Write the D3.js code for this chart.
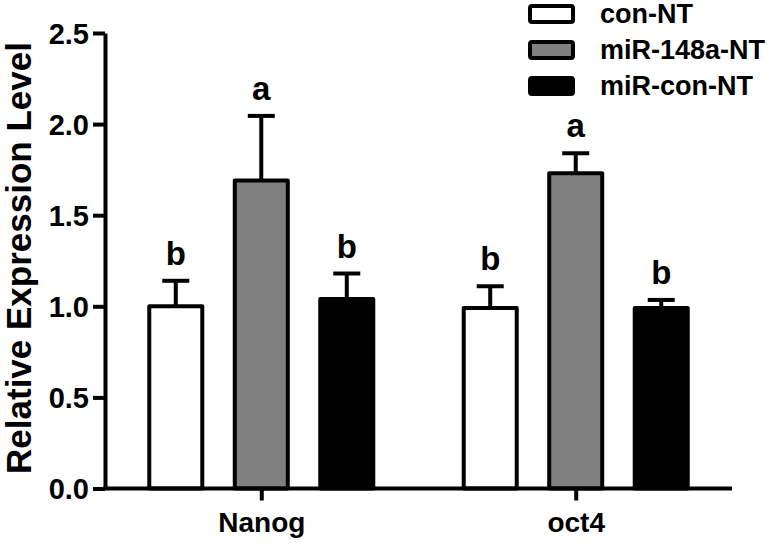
<!DOCTYPE html>
<html>
<head>
<meta charset="utf-8">
<script src="https://cdn.jsdelivr.net/npm/d3@7"></script>
<style>
  body { margin: 0; background: #fff; }
  text { font-family: "Liberation Sans", Arial, sans-serif; font-weight: bold; fill: #000; }
</style>
</head>
<body>
<svg id="chart" width="782" height="546"></svg>
<script>
// genes on the x axis, treatment groups as series
var genes = ["Nanog", "oct4"];
var series = ["con-NT", "miR-148a-NT", "miR-con-NT"];
var fills = ["#ffffff", "#808080", "#000000"];

// mean expression per gene, one entry per series
var means = {
    "Nanog": [1.00, 1.69, 1.04],
    "oct4":  [0.99, 1.73, 0.99]
};
// error bar (upper only)
var errors = {
    "Nanog": [0.14, 0.355, 0.14],
    "oct4":  [0.12, 0.11, 0.045]
};
// significance letters
var letters = {
    "Nanog": ["b", "a", "b"],
    "oct4":  ["b", "a", "b"]
};
var yTicks = [0, 0.5, 1.0, 1.5, 2.0, 2.5];

var svg = d3.select("#chart");

var x0 = d3.scalePoint()
    .domain(genes)
    .range([105, 732])
    .padding(0.497);

var x1 = d3.scaleBand()
    .domain(series)
    .range([-128.25, 128.25])
    .paddingInner(0.38)
    .paddingOuter(0.19);

var y = d3.scaleLinear()
    .domain([0, 2.5])
    .range([488.5, 33]);

// flatten into bar records
var bars = [];
genes.forEach(function(g) {
    series.forEach(function(s, i) {
	bars.push({
	    gene: g,
	    series: s,
	    fill: fills[i],
	    value: means[g][i],
	    err: errors[g][i],
	    letter: letters[g][i]
	});
    });
});

function cx(d) {
    return x0(d.gene) + x1(d.series) + x1.bandwidth() / 2;
}

// error bars first so the bar outline covers the stem
var eb = svg.append("g").attr("class", "errors");
eb.selectAll("line.stem")
    .data(bars)
    .enter()
    .append("line")
    .attr("x1", cx)
    .attr("x2", cx)
    .attr("y1", d => y(d.value))
    .attr("y2", d => y(d.value + d.err))
    .attr("stroke", "#000")
    .attr("stroke-width", 4);
eb.selectAll("line.cap")
    .data(bars)
    .enter()
    .append("line")
    .attr("x1", d => cx(d) - 13.5)
    .attr("x2", d => cx(d) + 13.5)
    .attr("y1", d => y(d.value + d.err))
    .attr("y2", d => y(d.value + d.err))
    .attr("stroke", "#000")
    .attr("stroke-width", 4);

svg.append("g").attr("class", "bars")
    .selectAll("rect")
    .data(bars)
    .enter()
    .append("rect")
    .attr("x", d => x0(d.gene) + x1(d.series))
    .attr("y", d => y(d.value))
    .attr("width", x1.bandwidth())
    .attr("height", d => y(0) - y(d.value))
    .attr("fill", d => d.fill)
    .attr("stroke", "#000")
    .attr("stroke-width", 4)
    .attr("stroke-linejoin", "round");

svg.append("g").attr("class", "letters")
    .selectAll("text")
    .data(bars)
    .enter()
    .append("text")
    .attr("x", cx)
    .attr("y", d => y(d.value + d.err) - 16)
    .attr("text-anchor", "middle")
    .style("font-size", "33px")
    .text(d => d.letter);

// y axis
var yAxis = svg.append("g")
    .attr("transform", "translate(105,0)")
    .call(d3.axisLeft(y)
	  .tickValues(yTicks)
	  .tickFormat(d3.format(".1f"))
	  .tickSize(12)
	  .tickSizeOuter(0)
	  .tickPadding(4));
yAxis.select(".domain").attr("stroke-width", 4);
yAxis.selectAll(".tick line").attr("stroke-width", 4);
yAxis.selectAll(".tick text")
    .style("font-size", "29px")
    .style("font-family", "'Liberation Sans', Arial, sans-serif")
    .attr("dy", "0.36em");

// x axis
var xAxis = svg.append("g")
    .attr("transform", "translate(0,488.5)")
    .call(d3.axisBottom(x0)
	  .tickSize(12)
	  .tickSizeOuter(0)
	  .tickPadding(12));
xAxis.select(".domain").attr("stroke-width", 4).attr("d", "M103,0H732");
xAxis.selectAll(".tick line").attr("stroke-width", 4);
xAxis.selectAll(".tick text")
    .style("font-size", "28px")
    .style("font-family", "'Liberation Sans', Arial, sans-serif");

// y title
svg.append("text")
    .attr("transform", "translate(31,258) rotate(-90)")
    .attr("text-anchor", "middle")
    .style("font-size", "35px")
    .text("Relative Expression Level");

// legend
var legend = svg.append("g").attr("class", "legend")
    .selectAll("g")
    .data(series)
    .enter()
    .append("g")
    .attr("transform", (d, i) => "translate(530," + (14 + i * 36) + ")");
legend.append("rect")
    .attr("x", 0)
    .attr("y", -8)
    .attr("width", 43)
    .attr("height", 16)
    .attr("rx", 2)
    .attr("fill", (d, i) => fills[i])
    .attr("stroke", "#000")
    .attr("stroke-width", 4);
legend.append("text")
    .attr("x", 70)
    .attr("y", 9)
    .style("font-size", "27px")
    .text(d => d);
</script>
</body>
</html>
